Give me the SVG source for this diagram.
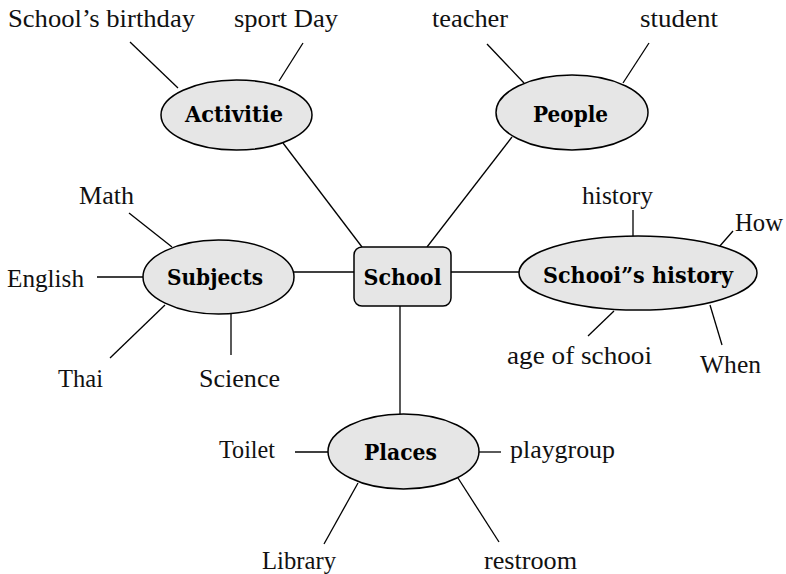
<svg xmlns="http://www.w3.org/2000/svg" width="786" height="574" viewBox="0 0 786 574">
<style>
.lbl{font-family:"Liberation Serif","DejaVu Serif",serif;font-size:25px;fill:#111}
.hd{font-family:"DejaVu Serif","Liberation Serif",serif;font-size:23px;font-weight:bold;fill:#000;text-anchor:middle}
.nd{fill:#e6e6e6;stroke:#000;stroke-width:1.5}
.cn line{stroke:#000;stroke-width:1.3}
</style>
<rect width="786" height="574" fill="#fff"/>
<g class="cn" id="connectors">
<line x1="130" y1="42" x2="178" y2="88"/>
<line x1="303" y1="43" x2="279" y2="81"/>
<line x1="283" y1="143" x2="362" y2="247"/>
<line x1="487" y1="44" x2="524" y2="83"/>
<line x1="649" y1="43" x2="623" y2="83"/>
<line x1="512" y1="137" x2="427" y2="247"/>
<line x1="129" y1="213" x2="172" y2="247"/>
<line x1="97" y1="277" x2="143" y2="277"/>
<line x1="110" y1="358" x2="165" y2="305"/>
<line x1="231" y1="314" x2="231" y2="355"/>
<line x1="294" y1="272" x2="354" y2="272"/>
<line x1="451" y1="272" x2="519" y2="272"/>
<line x1="633" y1="210" x2="633" y2="237"/>
<line x1="733" y1="231" x2="719" y2="247"/>
<line x1="588" y1="336" x2="614" y2="311"/>
<line x1="710" y1="305" x2="722" y2="345"/>
<line x1="400" y1="306" x2="400" y2="414"/>
<line x1="295" y1="452" x2="328" y2="452"/>
<line x1="479" y1="452" x2="501" y2="452"/>
<line x1="324" y1="544" x2="358" y2="483"/>
<line x1="458" y1="478" x2="499" y2="542"/>
</g>
<g id="school"><rect x="354" y="247" width="97" height="59" rx="8" class="nd"/><text class="hd" x="402.5" y="285" textLength="78" lengthAdjust="spacingAndGlyphs">School</text></g>
<g id="activitie"><ellipse cx="236.5" cy="115" rx="75.5" ry="35" class="nd"/><text class="hd" x="234" y="122" textLength="98" lengthAdjust="spacingAndGlyphs">Activitie</text></g>
<g id="people"><ellipse cx="572" cy="112.5" rx="76" ry="37.5" class="nd"/><text class="hd" x="570.5" y="122" textLength="75" lengthAdjust="spacingAndGlyphs">People</text></g>
<g id="subjects"><ellipse cx="218.5" cy="277" rx="75.5" ry="37" class="nd"/><text class="hd" x="215" y="285" textLength="96" lengthAdjust="spacingAndGlyphs">Subjects</text></g>
<g id="history"><ellipse cx="638" cy="273" rx="119" ry="37" class="nd"/><text class="hd" x="638" y="283" textLength="190" lengthAdjust="spacingAndGlyphs">Schooi”s  history</text></g>
<g id="places"><ellipse cx="403.5" cy="451.5" rx="75.5" ry="37.5" class="nd"/><text class="hd" x="400.5" y="460" textLength="73" lengthAdjust="spacingAndGlyphs">Places</text></g>
<g id="labels">
<text class="lbl" x="8" y="27" textLength="187" lengthAdjust="spacingAndGlyphs">School’s birthday</text>
<text class="lbl" x="234" y="27" textLength="104" lengthAdjust="spacingAndGlyphs">sport Day</text>
<text class="lbl" x="432" y="27" textLength="76" lengthAdjust="spacingAndGlyphs">teacher</text>
<text class="lbl" x="640" y="27" textLength="78" lengthAdjust="spacingAndGlyphs">student</text>
<text class="lbl" x="79" y="204" textLength="55" lengthAdjust="spacingAndGlyphs">Math</text>
<text class="lbl" x="7" y="287" textLength="77" lengthAdjust="spacingAndGlyphs">English</text>
<text class="lbl" x="58" y="387" textLength="45" lengthAdjust="spacingAndGlyphs">Thai</text>
<text class="lbl" x="199" y="387" textLength="81" lengthAdjust="spacingAndGlyphs">Science</text>
<text class="lbl" x="582" y="204" textLength="71" lengthAdjust="spacingAndGlyphs">history</text>
<text class="lbl" x="735" y="231" textLength="48" lengthAdjust="spacingAndGlyphs">How</text>
<text class="lbl" x="507" y="364" textLength="145" lengthAdjust="spacingAndGlyphs">age of schooi</text>
<text class="lbl" x="700" y="373" textLength="61" lengthAdjust="spacingAndGlyphs">When</text>
<text class="lbl" x="219" y="458" textLength="56" lengthAdjust="spacingAndGlyphs">Toilet</text>
<text class="lbl" x="510" y="458" textLength="105" lengthAdjust="spacingAndGlyphs">playgroup</text>
<text class="lbl" x="262" y="569" textLength="74" lengthAdjust="spacingAndGlyphs">Library</text>
<text class="lbl" x="484" y="569" textLength="93" lengthAdjust="spacingAndGlyphs">restroom</text>
</g>
</svg>
